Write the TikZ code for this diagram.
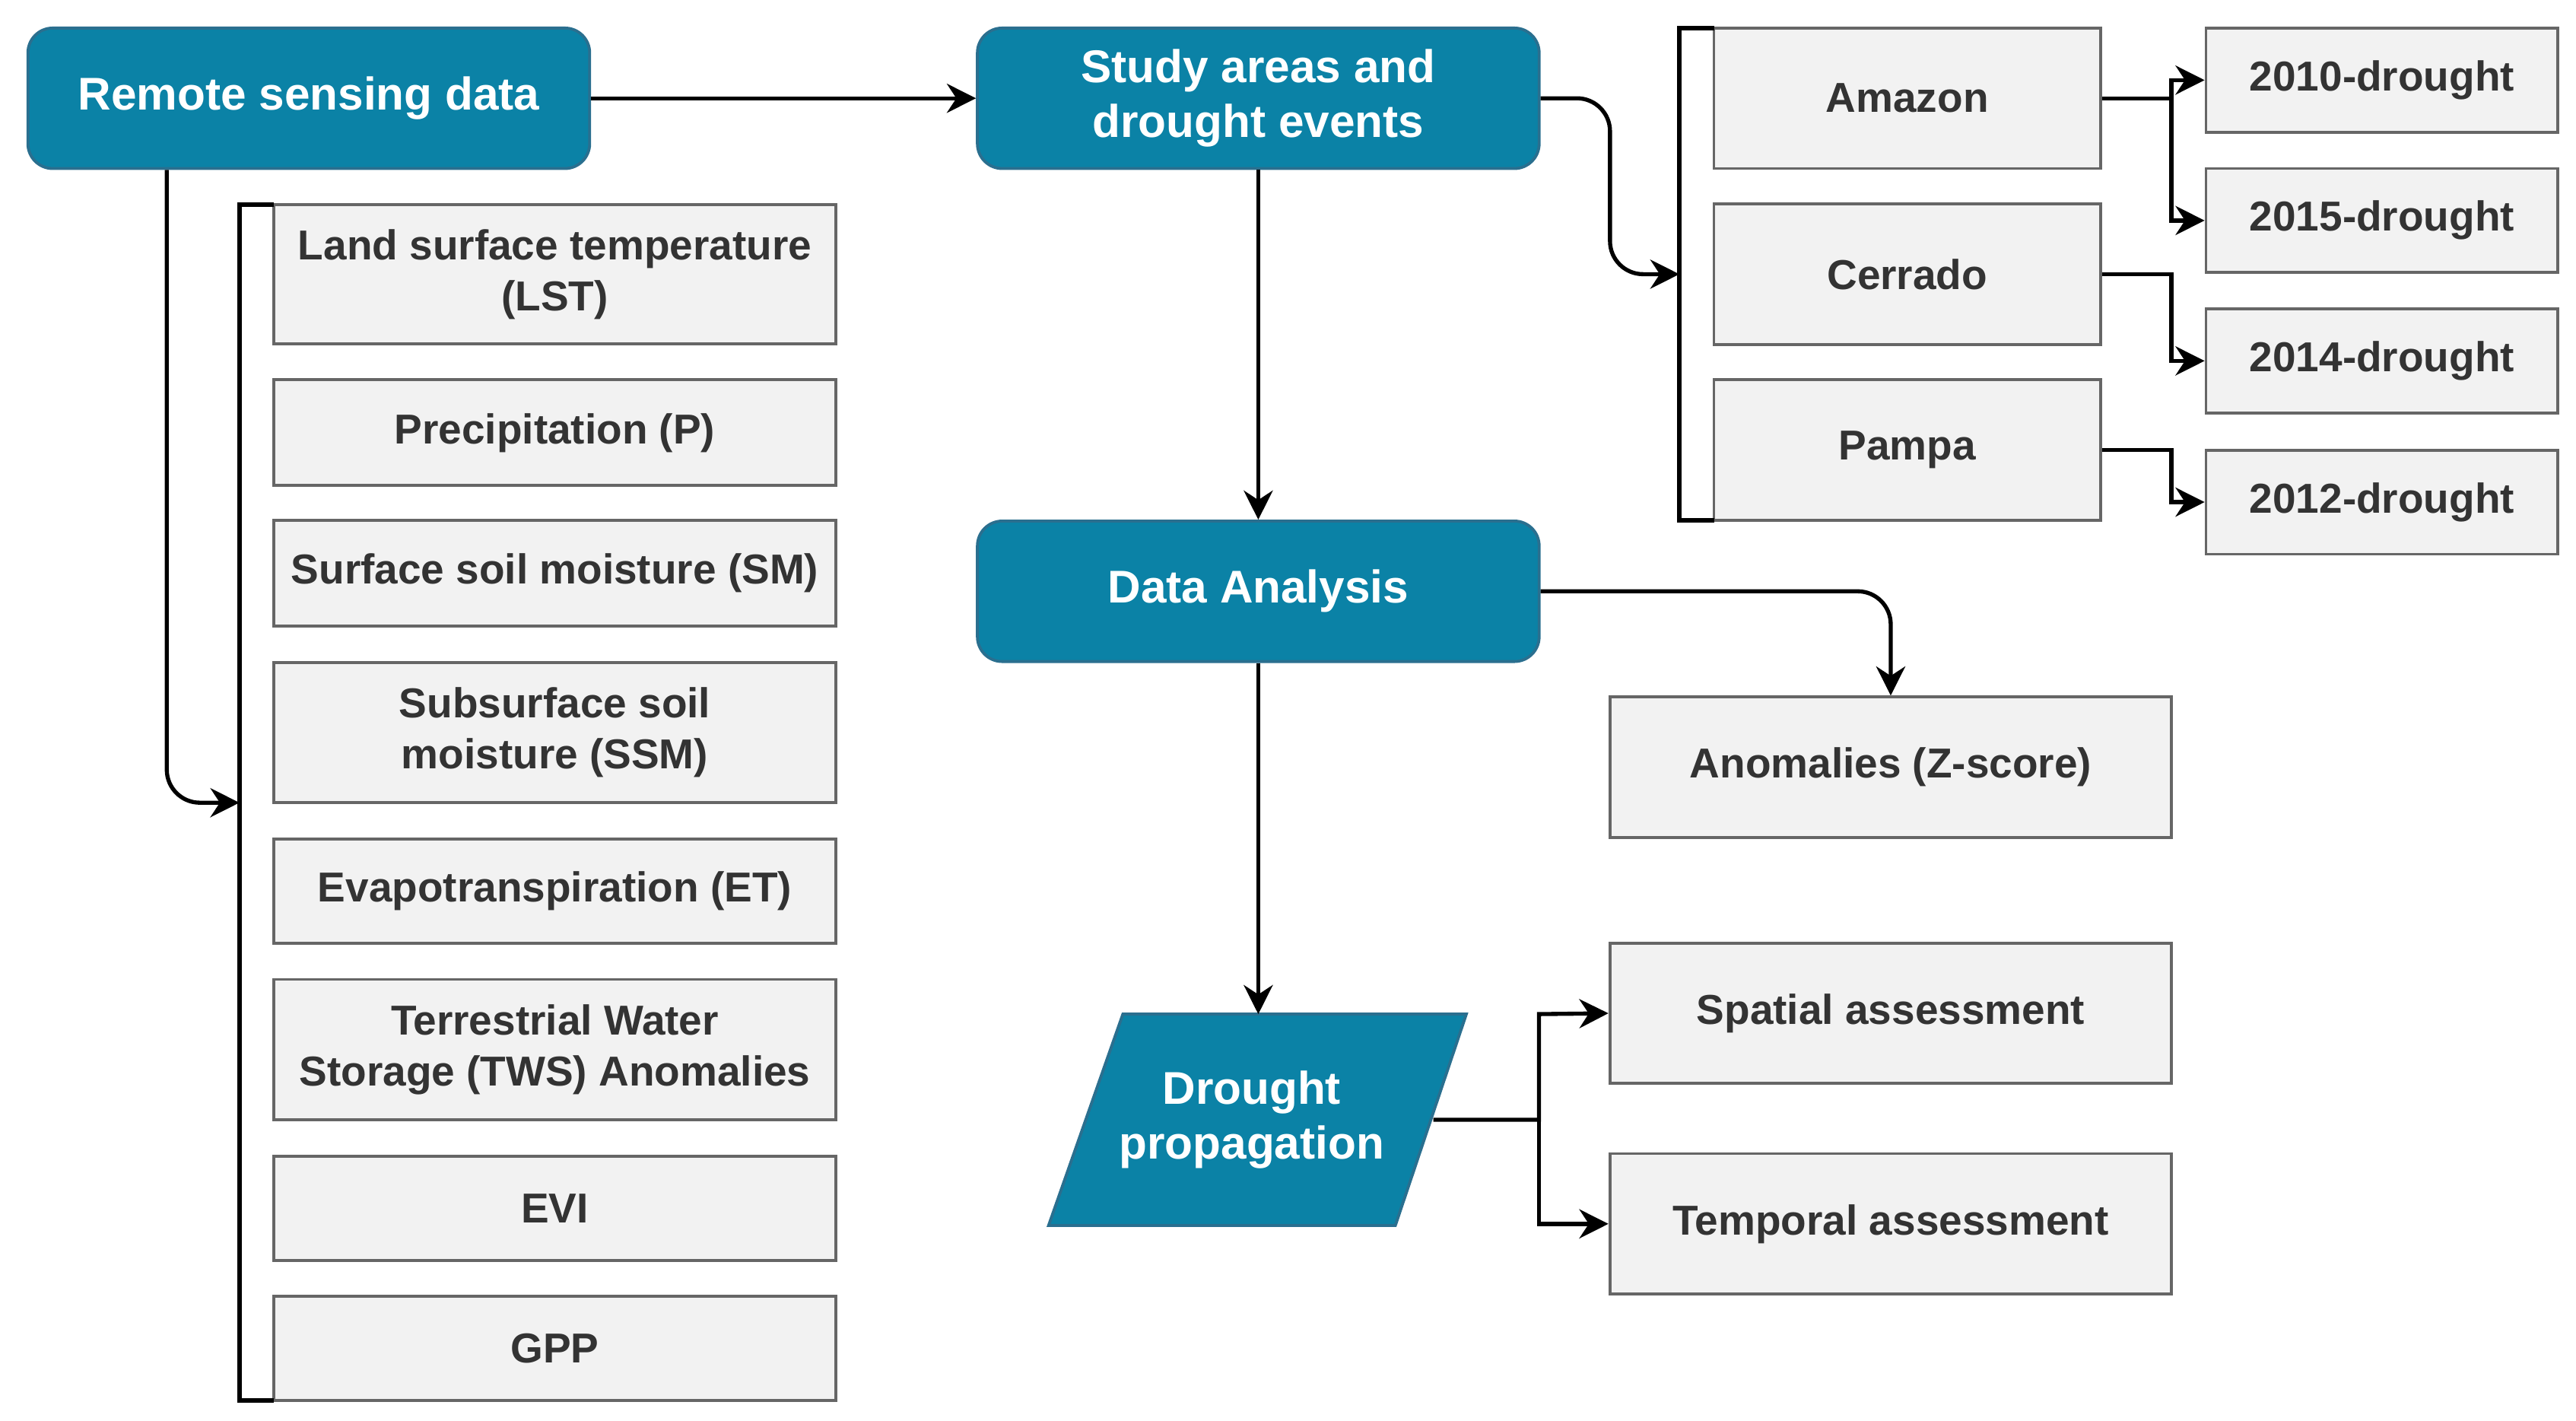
\documentclass[tikz,border=0pt]{standalone}
\usepackage{fontspec}
\setmainfont{Liberation Sans}
\usetikzlibrary{shapes.geometric,arrows.meta}
\definecolor{teal}{HTML}{0B82A6}
\definecolor{tealb}{HTML}{2A6F8F}
\definecolor{boxf}{HTML}{F2F2F2}
\definecolor{boxd}{HTML}{666666}
\definecolor{txt}{HTML}{333333}
\begin{document}
\begin{tikzpicture}[x=0.01cm,y=-0.01cm,
 fs/.style={font=\fontsize{7.2}{8.8}\selectfont\bfseries},
 fm/.style={font=\fontsize{7.9}{9.4}\selectfont\bfseries},
 main/.style={fm,rectangle,rounded corners=1.5mm,fill=teal,draw=tealb,line width=0.5pt,text=white,align=center,minimum width=3.4cm,minimum height=0.85cm,inner sep=0pt},
 box/.style={fs,rectangle,fill=boxf,draw=boxd,line width=0.5pt,text=txt,align=center,inner sep=0pt},
 lb/.style={box,minimum width=3.4cm},
 rb/.style={box,minimum width=2.34cm,minimum height=0.85cm},
 db/.style={box,minimum width=2.13cm,minimum height=0.63cm},
 ab/.style={box,minimum width=3.4cm,minimum height=0.85cm},
 ar/.style={-{Stealth[length=5pt,width=5pt]},line width=0.7pt},
 ln/.style={line width=0.8pt}]
\useasboundingbox (0,0) rectangle (1560,860);
\node[main] (rs) at (187,59.5) {Remote sensing data};
\node[main] (sa) at (762,59.5) {Study areas and\\drought events};
\node[main] (da) at (762,358) {Data Analysis};
\draw[fill=teal,draw=tealb,line width=0.5pt] (680,614) -- (888,614) -- (845,742) -- (635,742) -- cycle;
\node[fm,text=white,align=center] (dp) at (758,678) {Drought\\propagation};
\coordinate (dpt) at (762,614);
\coordinate (dpr) at (868,678);
\node[lb,minimum height=0.84cm] (l1) at (336,166) {Land surface temperature\\(LST)};
\node[lb,minimum height=0.64cm] (l2) at (336,262) {Precipitation (P)};
\node[lb,minimum height=0.64cm] (l3) at (336,347) {Surface soil moisture (SM)};
\node[lb,minimum height=0.85cm] (l4) at (336,443.5) {Subsurface soil\\moisture (SSM)};
\node[lb,minimum height=0.63cm] (l5) at (336,539.5) {Evapotranspiration (ET)};
\node[lb,minimum height=0.85cm] (l6) at (336,635.5) {Terrestrial Water\\Storage (TWS) Anomalies};
\node[lb,minimum height=0.63cm] (l7) at (336,731.5) {EVI};
\node[lb,minimum height=0.63cm] (l8) at (336,816.5) {GPP};
\coordinate (bt) at (145,124); \coordinate (bb) at (145,848); \coordinate (bm) at (145,486);
\draw[ln] (166,124) -- (bt) -- (bb) -- (166,848);
\node[rb] (am) at (1155,59.5) {Amazon};
\node[rb] (ce) at (1155,166) {Cerrado};
\node[rb] (pa) at (1155,272.5) {Pampa};
\coordinate (rt) at (1017,17); \coordinate (rm) at (1017,166);
\draw[ln] (1038,17) -- (rt) -- (1017,315) -- (1038,315);
\node[db] (d1) at (1442.5,48.5) {2010-drought};
\node[db] (d2) at (1442.5,133.5) {2015-drought};
\node[db] (d3) at (1442.5,218.5) {2014-drought};
\node[db] (d4) at (1442.5,304) {2012-drought};
\node[ab] (an) at (1145,464.5) {Anomalies (Z-score)};
\node[ab] (sp) at (1145,613.5) {Spatial assessment};
\node[ab] (te) at (1145,741) {Temporal assessment};
\draw[ar] (rs) -- (sa);
\draw[ar,rounded corners=2mm] (rs.south -| 101,0) |- (bm);
\draw[ar,rounded corners=2mm] (sa.east) -| (975,110) |- (rm);
\draw[ar] (sa) -- (da);
\draw[ar,rounded corners=2mm] (da.east) -| (an.north);
\draw[ar] (da) -- (dpt);
\draw[ar] (dpr) -| (932,614) -- (sp.west);
\draw[ar] (932,678) |- (te.west);
\draw[ar] (am.east) -| (1315,48.5) -- (d1.west);
\draw[ar] (1315,59.5) |- (d2.west);
\draw[ar] (ce.east) -| (1315,218.5) -- (d3.west);
\draw[ar] (pa.east) -| (1315,304) -- (d4.west);
\end{tikzpicture}
\end{document}
